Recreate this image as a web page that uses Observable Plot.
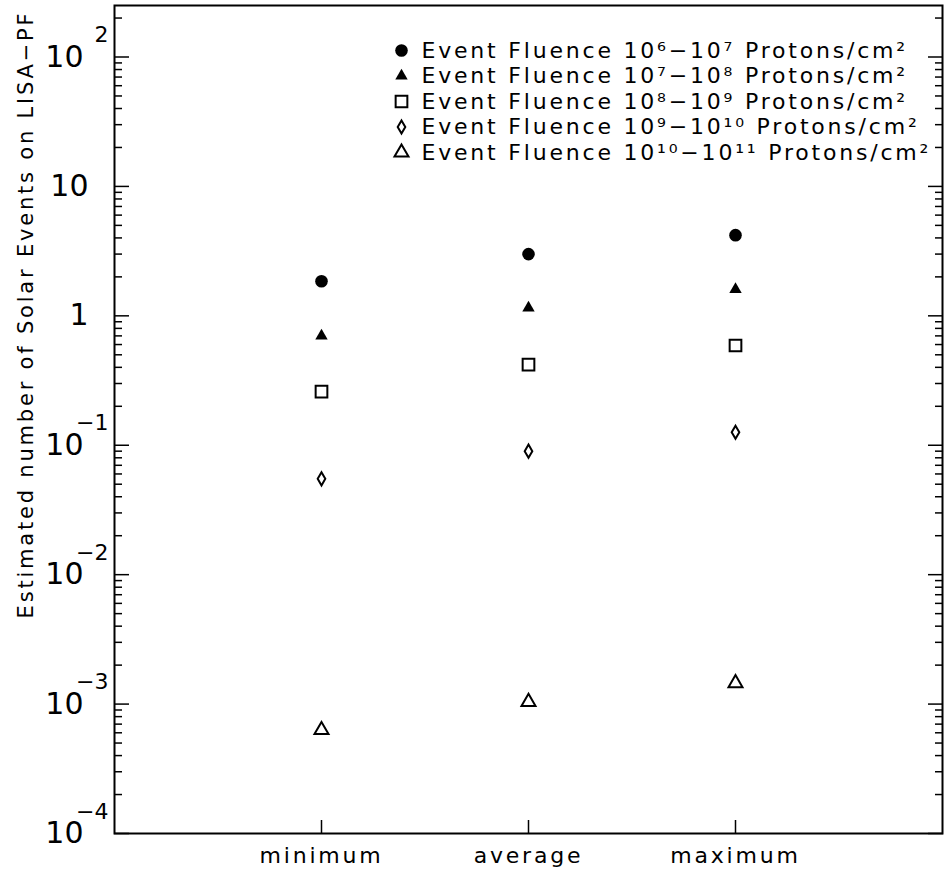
<!DOCTYPE html>
<html><head><meta charset="utf-8">
<script src="https://cdn.jsdelivr.net/npm/d3@7"></script>
<script src="https://cdn.jsdelivr.net/npm/@observablehq/plot@0.6"></script>
<style>
body{margin:0;background:#fff;}
#chart svg{font-family:"DejaVu Sans",sans-serif;}
</style></head><body><div id="chart"></div>
<script>
// ---- data ----
const categories = ["minimum", "average", "maximum"];
const fluence6to7 = [1.85, 3.0, 4.2];
const fluence7to8 = [0.70, 1.15, 1.6];
const fluence8to9 = [0.26, 0.42, 0.59];
const fluence9to10 = [0.055, 0.090, 0.126];
const fluence10to11 = [0.00063, 0.00104, 0.00145];
const seriesLabels = [
  "Event Fluence 10⁶−10⁷ Protons/cm²",
  "Event Fluence 10⁷−10⁸ Protons/cm²",
  "Event Fluence 10⁸−10⁹ Protons/cm²",
  "Event Fluence 10⁹−10¹⁰ Protons/cm²",
  "Event Fluence 10¹⁰−10¹¹ Protons/cm²"
];
const yTickExponents = [-4, -3, -2, -1, 0, 1, 2];
const yTitle = "Estimated number of Solar Events on LISA−PF";

// ---- styles ----
const seriesValues = [fluence6to7, fluence7to8, fluence8to9, fluence9to10, fluence10to11];
const styles = [
  {symbol: "circle", fill: "black", stroke: "none", r: 6.3},
  {symbol: "triangle", fill: "black", stroke: "none", r: 4.6},
  {symbol: "square", fill: "none", stroke: "black", strokeWidth: 2, r: 6.6},
  {symbol: "diamond", fill: "none", stroke: "black", strokeWidth: 2, r: 4.0},
  {symbol: "triangle", fill: "none", stroke: "black", strokeWidth: 2, r: 5.2}
];

const majors = yTickExponents.map(e => 10 ** e);
const minors = [];
for (const e of yTickExponents) for (let k = 2; k <= 9; k++) { const v = k * 10 ** e; if (v <= 250) minors.push(v); }
const withExp = yTickExponents.filter(e => e !== 0 && e !== 1);
const noExp = yTickExponents.filter(e => e === 0 || e === 1);

const marks = [];
seriesValues.forEach((vals, s) => {
  const rows = vals.map((v, i) => ({x: i + 1, y: v}));
  marks.push(Plot.dot(rows, {x: "x", y: "y", ...styles[s]}));
  marks.push(Plot.dot([0], {frameAnchor: "top-left", dx: 287, dy: 45 + 25.5 * s, ...styles[s]}));
  marks.push(Plot.text([seriesLabels[s]], {frameAnchor: "top-left", dx: 307, dy: 45 + 25.5 * s, textAnchor: "start", lineAnchor: "middle", fontSize: 22, fill: "black"}));
});

const tickOpts = {tickFormat: null, label: null, strokeWidth: 1.5, fill: "none"};
const chart = Plot.plot({
  width: 945, height: 876,
  marginLeft: 114, marginRight: 3, marginTop: 5, marginBottom: 43,
  x: {type: "linear", domain: [0, 4]},
  y: {type: "log", domain: [1e-4, 250]},
  style: {fontFamily: "DejaVu Sans", color: "black", background: "white"},
  marks: [
    Plot.frame({stroke: "black", strokeWidth: 2}),
    Plot.axisY({anchor: "left", ticks: majors, tickSize: -15, ...tickOpts}),
    Plot.axisY({anchor: "left", ticks: minors, tickSize: -8, ...tickOpts}),
    Plot.axisY({anchor: "right", ticks: majors, tickSize: -15, ...tickOpts}),
    Plot.axisY({anchor: "right", ticks: minors, tickSize: -8, ...tickOpts}),
    Plot.axisX({anchor: "bottom", ticks: [1, 2, 3], tickSize: -13, ...tickOpts}),
    Plot.axisX({anchor: "bottom", ticks: [1, 2, 3], tickSize: 0, tickPadding: 14, tickFormat: i => categories[i - 1], label: null, fontSize: 22}),
    Plot.text(withExp, {y: e => 10 ** e, text: () => "10", frameAnchor: "left", dx: -31, textAnchor: "end", lineAnchor: "middle", fontSize: 30}),
    Plot.text(withExp, {y: e => 10 ** e, text: e => (e < 0 ? "−" : "") + Math.abs(e), frameAnchor: "left", dx: -6, dy: -22, textAnchor: "end", lineAnchor: "middle", fontSize: 22}),
    Plot.text(noExp, {y: e => 10 ** e, text: e => String(10 ** e), frameAnchor: "left", dx: -26, textAnchor: "end", lineAnchor: "middle", fontSize: 30}),
    Plot.text([yTitle], {frameAnchor: "left", dx: -88, dy: -105, rotate: -90, textAnchor: "middle", lineAnchor: "middle", fontSize: 21}),
    ...marks
  ]
});
// wide, Hershey-like letter spacing for the legend, title and category labels
const spaced = new Set([...seriesLabels, ...categories, yTitle]);
d3.select(chart).selectAll("text").each(function () {
  if (spaced.has(this.textContent)) this.style.letterSpacing = "2.8px";
});
document.getElementById("chart").appendChild(chart);
</script>
</body></html>
